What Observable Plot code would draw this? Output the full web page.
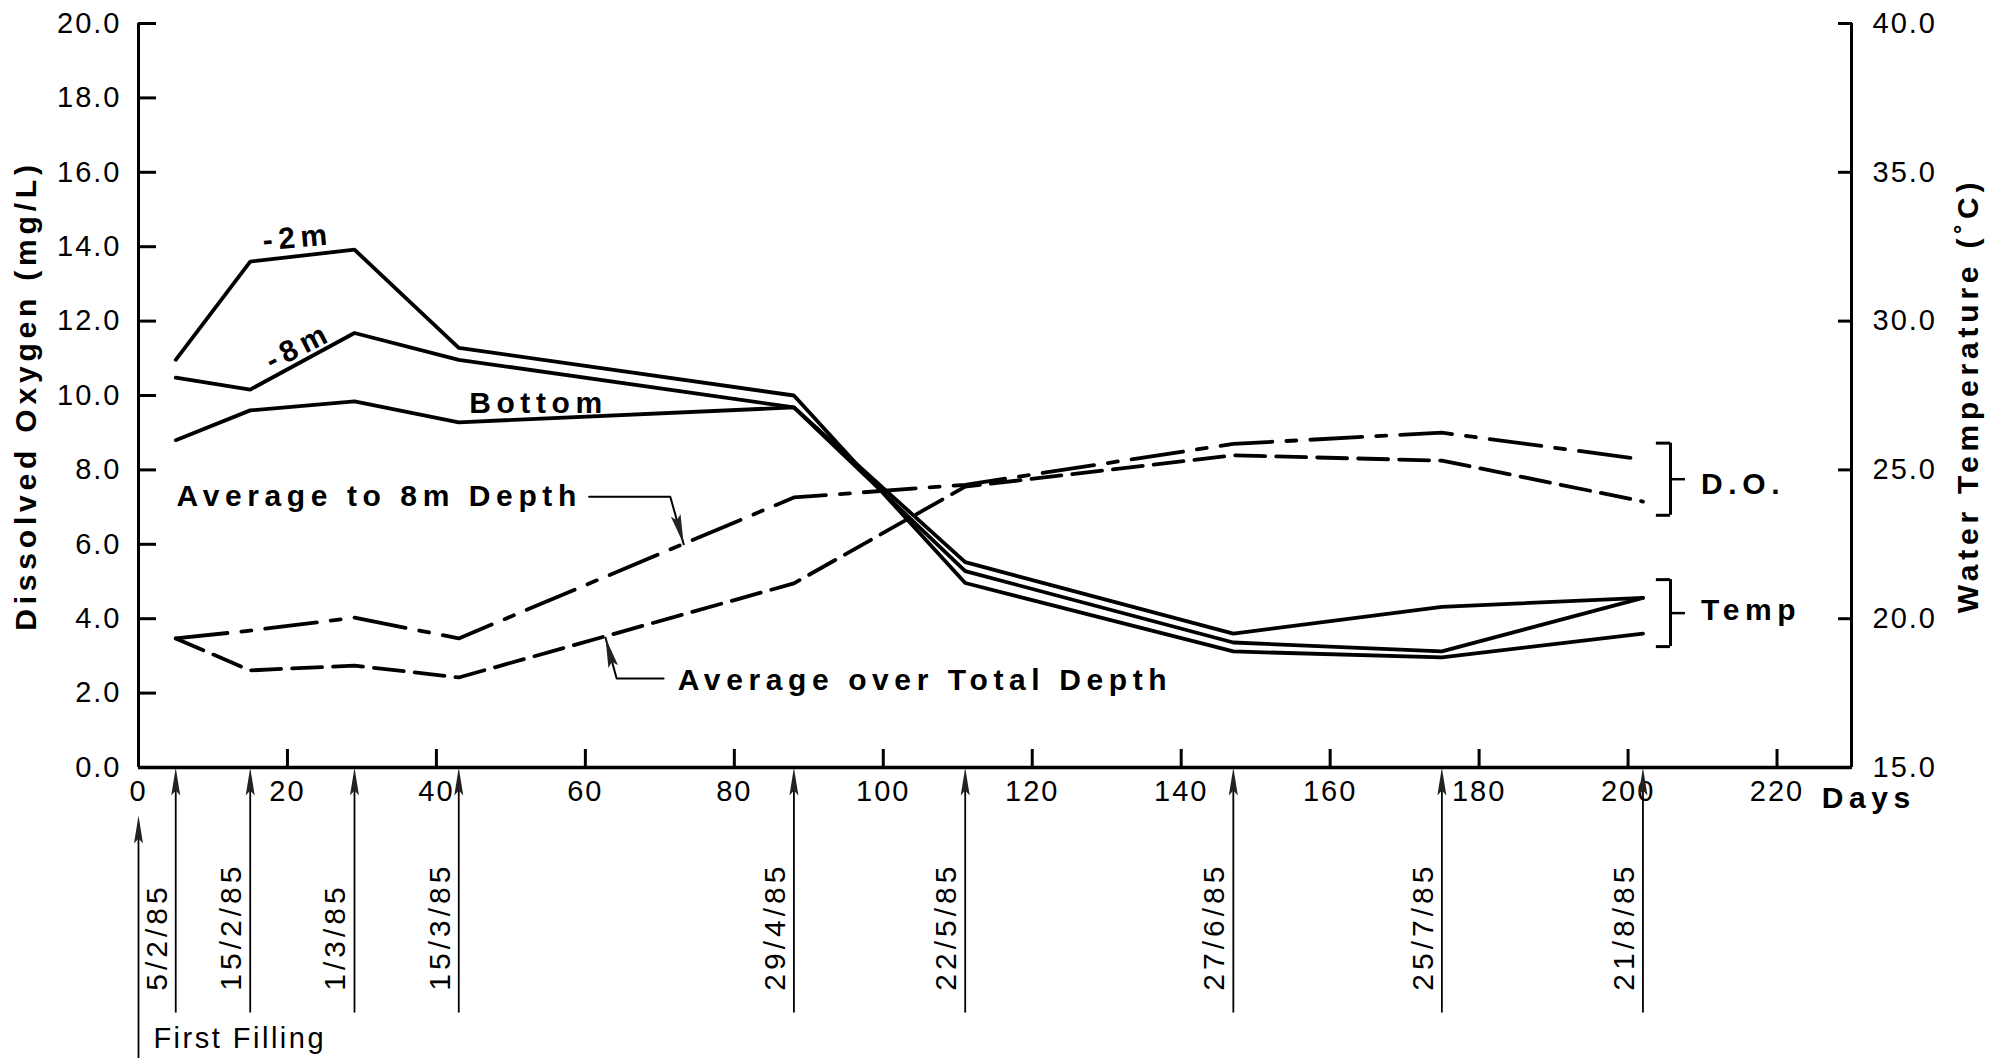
<!DOCTYPE html>
<html>
<head>
<meta charset="utf-8">
<script src="https://cdn.jsdelivr.net/npm/d3@7"></script>
<script src="https://cdn.jsdelivr.net/npm/@observablehq/plot@0.6"></script>
<style>
  html, body { margin: 0; padding: 0; background: #fff; overflow: hidden; }
  #chart svg { display: block; }
</style>
</head>
<body>
<div id="chart"></div>
<script>
// ---------------- data ----------------
const days = [5, 15, 29, 43, 88, 111, 147, 175, 202];
const sampleDates = ["5/2/85", "15/2/85", "1/3/85", "15/3/85", "29/4/85", "22/5/85", "27/6/85", "25/7/85", "21/8/85"];

// water temperature (°C), right axis
const temp2m     = [28.7, 32.0, 32.4, 29.1, 27.5, 21.2, 18.9, 18.7, 19.5];
const temp8m     = [28.1, 27.7, 29.6, 28.7, 27.1, 21.9, 19.5, 20.4, 20.7];
const tempBottom = [26.0, 27.0, 27.3, 26.6, 27.1, 21.6, 19.2, 18.9, 20.7];

// dissolved oxygen (mg/L), left axis
const doAvg8m    = [3.47, 3.68, 4.03, 3.47, 7.26, 7.60, 8.70, 9.00, 8.28];
const doAvgTotal = [3.47, 2.61, 2.74, 2.42, 4.95, 7.55, 8.39, 8.25, 7.15];

const doTicks   = [0, 2, 4, 6, 8, 10, 12, 14, 16, 18, 20];
const tempTicks = [15, 20, 25, 30, 35, 40];
const dayTicks  = [0, 20, 40, 60, 80, 100, 120, 140, 160, 180, 200, 220];

// ---------------- helpers ----------------
// right axis spans 15–40 °C over the same height as 0–20 mg/L
const tempToDO = t => (t - 15) / 1.25;
const doToTemp = v => 15 + v * 1.25;

const tempRows = [["-2m", temp2m], ["-8m", temp8m], ["Bottom", tempBottom]]
  .flatMap(([s, arr]) => days.map((d, i) => ({series: s, day: d, temp: arr[i]})));
const avg8Rows = days.map((d, i) => ({day: d, v: doAvg8m[i]}));
const avgTRows = days.map((d, i) => ({day: d, v: doAvgTotal[i]}));

// arrowhead symbol pointing in direction (dx, dy) (screen units), tip at the anchor
function head(dx, dy, L = 28, w = 4.5) {
  const n = Math.hypot(dx, dy), ux = dx / n, uy = dy / n, px = -uy, py = ux;
  return {
    draw(ctx) {
      ctx.moveTo(0, 0);
      ctx.lineTo(-ux * L + px * w, -uy * L + py * w);
      ctx.lineTo(-ux * (L - 5), -uy * (L - 5));
      ctx.lineTo(-ux * L - px * w, -uy * L - py * w);
      ctx.closePath();
    }
  };
}

// annotation placement (in data units)
const leader8 = [[60.5, 7.28], [71.4, 7.28], [73.2, 6.0]];
const leaderT = [[70.5, 2.39], [64.2, 2.39], [62.7, 3.49]];
const brackets = [
  {label: "D.O.", top: 8.72, bottom: 6.78, mid: 7.75, ty: 7.62},
  {label: "Temp", top: 5.05, bottom: 3.25, mid: 4.15, ty: 4.22}
];
const bx = {end: 203.8, spine: 205.7, tick: 207.7, text: 209.8};

const bold = {fontWeight: "bold", fontSize: 30, fill: "black"};
const titles = ["Dissolved Oxygen (mg/L)", "Water Temperature (˚C)"];

const chart = Plot.plot({
  width: 1990,
  height: 1058,
  marginLeft: 138,
  marginRight: 139,
  marginTop: 23,
  marginBottom: 291,
  x: {domain: [0, 230], label: null},
  y: {domain: [0, 20], label: null},
  style: {fontFamily: "'Liberation Sans', Arial, Helvetica, sans-serif", fontSize: "29px", color: "black", background: "white"},
  marks: [
    // axes frame lines
    Plot.ruleY([0], {strokeWidth: 3.5}),
    Plot.ruleX([0, 230], {strokeWidth: 3}),

    // inside ticks
    Plot.axisX({ticks: dayTicks.filter(d => d > 0), tickSize: 18, dy: -18, strokeWidth: 3, fill: "none", label: null}),
    Plot.axisY({anchor: "left", ticks: doTicks, tickSize: 18, dx: 18, strokeWidth: 3, fill: "none", label: null}),
    Plot.axisY({anchor: "right", ticks: tempTicks.map(tempToDO), tickSize: 14, dx: -14, strokeWidth: 3, fill: "none", label: null}),

    // tick labels
    Plot.axisX({ticks: dayTicks, tickSize: 0, tickPadding: 13, fontSize: 29, tickFormat: d => String(d), label: null}),
    Plot.axisY({anchor: "left", ticks: doTicks, tickSize: 0, tickPadding: 17, fontSize: 29, tickFormat: d => d.toFixed(1), label: null}),
    Plot.axisY({anchor: "right", ticks: tempTicks.map(tempToDO), tickSize: 0, tickPadding: 21, fontSize: 29, tickFormat: d => doToTemp(d).toFixed(1), label: null}),

    // axis titles
    Plot.text([titles[0]], {text: d => d, frameAnchor: "left", dx: -112, rotate: -90, textAnchor: "middle", lineAnchor: "middle", ...bold}),
    Plot.text([titles[1]], {text: d => d, frameAnchor: "right", dx: 117, rotate: -90, textAnchor: "middle", lineAnchor: "middle", ...bold}),
    Plot.text(["Days"], {text: d => d, x: 226.0, y: -1.10, textAnchor: "start", lineAnchor: "bottom", ...bold}),

    // temperature lines (solid)
    Plot.line(tempRows, {x: "day", y: d => tempToDO(d.temp), z: "series", stroke: "black", strokeWidth: 3.8, strokeLinejoin: "miter"}),

    // dissolved oxygen averages
    Plot.line(avg8Rows, {x: "day", y: "v", stroke: "black", strokeWidth: 3.8, strokeDasharray: "52,14,10,14"}),
    Plot.line(avgTRows, {x: "day", y: "v", stroke: "black", strokeWidth: 3.8, strokeDasharray: "30,11"}),

    // series labels
    Plot.text(["-2m"], {text: d => d, x: 16.8, y: 13.9, rotate: -5, textAnchor: "start", lineAnchor: "bottom", ...bold}),
    Plot.text(["-8m"], {text: d => d, x: 21.5, y: 11.32, rotate: -27, textAnchor: "middle", lineAnchor: "middle", ...bold}),
    Plot.text(["Bottom"], {text: d => d, x: 44.4, y: 9.54, textAnchor: "start", lineAnchor: "bottom", ...bold}),
    Plot.text(["Average to 8m Depth"], {text: d => d, x: 5.1, y: 7.04, textAnchor: "start", lineAnchor: "bottom", ...bold}),
    Plot.text(["Average over Total Depth"], {text: d => d, x: 72.4, y: 2.07, textAnchor: "start", lineAnchor: "bottom", ...bold}),

    // leader lines with arrowheads
    Plot.line(leader8, {x: d => d[0], y: d => d[1], stroke: "black", strokeWidth: 2}),
    Plot.line(leaderT, {x: d => d[0], y: d => d[1], stroke: "black", strokeWidth: 2}),
    Plot.dot([leader8[2]], {x: d => d[0], y: d => d[1], symbol: head(13, 47, 30, 5), fill: "#222", stroke: "none", r: 5}),
    Plot.dot([leaderT[2]], {x: d => d[0], y: d => d[1], symbol: head(-11, -41, 30, 5), fill: "#222", stroke: "none", r: 5}),

    // brackets
    Plot.ruleX(brackets, {x: bx.spine, y1: "bottom", y2: "top", strokeWidth: 3}),
    Plot.ruleY(brackets, {y: "top", x1: bx.end, x2: bx.spine, strokeWidth: 3}),
    Plot.ruleY(brackets, {y: "bottom", x1: bx.end, x2: bx.spine, strokeWidth: 3}),
    Plot.ruleY(brackets, {y: "mid", x1: bx.spine, x2: bx.tick, strokeWidth: 2.5}),
    Plot.text(brackets, {x: bx.text, y: "ty", text: "label", textAnchor: "start", lineAnchor: "middle", ...bold}),

    // sampling date arrows below the axis
    Plot.ruleX(days, {x: d => d, y1: -6.6, y2: -0.3, strokeWidth: 1.8}),
    Plot.dot(days, {x: d => d, y: 0, symbol: head(0, -1), fill: "#222", stroke: "none", r: 5}),
    Plot.text(days, {x: d => d, y: -6.0, text: (d, i) => sampleDates[i], rotate: -90, textAnchor: "start", lineAnchor: "bottom", dx: -9, fontSize: 30}),

    // first filling arrow
    Plot.ruleX([0], {x: d => d, y1: -7.9, y2: -1.6, strokeWidth: 1.8}),
    Plot.dot([0], {x: d => d, y: -1.29, symbol: head(0, -1), fill: "#222", stroke: "none", r: 5}),
    Plot.text(["First Filling"], {text: d => d, x: 2.0, y: -7.53, textAnchor: "start", lineAnchor: "bottom", fontSize: 29})
  ]
});

// letter spacing, matching the wide tracking of the original lettering
const svg = d3.select(chart);
svg.selectAll("text").each(function () {
  const t = this.textContent;
  const g = this.closest("g");
  const isBold = g && g.getAttribute("font-weight") === "bold";
  let ls;
  if (titles.includes(t)) ls = 4.8;
  else if (isBold) ls = 5.6;
  else if (sampleDates.includes(t)) ls = 4;
  else if (t === "First Filling") ls = 2.5;
  else ls = 2;
  this.style.letterSpacing = ls + "px";
});

document.getElementById("chart").appendChild(chart);
</script>
</body>
</html>
